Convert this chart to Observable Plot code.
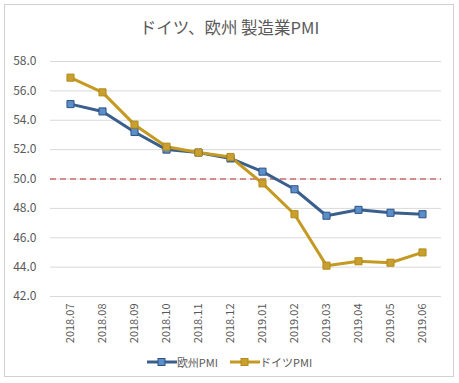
<!DOCTYPE html>
<html>
<head>
<meta charset="utf-8">
<script src="https://cdn.jsdelivr.net/npm/d3@7"></script>
<script src="https://cdn.jsdelivr.net/npm/@observablehq/plot@0.6"></script>
<style>
  body { margin: 0; background: #fff; font-family: "Noto Sans CJK JP", "Noto Sans", sans-serif; }
  #wrap { position: relative; width: 459px; height: 383px; overflow: hidden; }
  #frame { position: absolute; left: 4px; top: 4px; width: 450px; height: 373px; border: 1px solid #d0d0d0; box-sizing: border-box; background: #fff; }
  #title { position: absolute; left: 0; width: 459px; top: 15px; text-align: center; font-size: 16.5px; color: #595959; }
  #chart { position: absolute; left: 0; top: 50px; }
  #legend { position: absolute; left: 0; width: 459px; top: 354px; display: flex; justify-content: center; gap: 12px; font-size: 11px; color: #595959; }
  .item { display: flex; align-items: center; }
</style>
</head>
<body>
<div id="wrap">
  <div id="frame"></div>
  <div id="title">ドイツ、欧州 製造業PMI</div>
  <div id="chart"></div>
  <div id="legend"></div>
</div>
<script>
const months = ["2018.07","2018.08","2018.09","2018.10","2018.11","2018.12","2019.01","2019.02","2019.03","2019.04","2019.05","2019.06"];
const euPMI = [55.1, 54.6, 53.2, 52.0, 51.8, 51.4, 50.5, 49.3, 47.5, 47.9, 47.7, 47.6];
const dePMI = [56.9, 55.9, 53.7, 52.2, 51.8, 51.5, 49.7, 47.6, 44.1, 44.4, 44.3, 45.0];
const yTicks = [42, 44, 46, 48, 50, 52, 54, 56, 58];
const threshold = [50];
const seriesNames = ["欧州PMI", "ドイツPMI"];

const lineColors = ["#3A5F8D", "#C49A22"];
const dotFills = ["#5B8FCB", "#C9A030"];
const dotStrokes = ["#2F5280", "#B48A18"];

const eu = months.map((m, i) => ({month: m, value: euPMI[i]}));
const de = months.map((m, i) => ({month: m, value: dePMI[i]}));

const chart = Plot.plot({
  width: 459,
  height: 300,
  marginTop: 11,
  marginBottom: 54,
  marginLeft: 50,
  marginRight: 18,
  style: {fontFamily: '"Noto Sans CJK JP", "Noto Sans", sans-serif', fontSize: "11px", color: "#595959", background: "transparent"},
  x: {type: "point", domain: months, padding: 0.5, label: null},
  y: {domain: [42, 58], label: null},
  marks: [
    Plot.ruleY(yTicks, {stroke: "#d9d9d9", strokeWidth: 1}),
    Plot.axisY({ticks: yTicks, tickFormat: d => d.toFixed(1), tickSize: 0, tickPadding: 14, fill: "#595959", fontSize: 12}),
    Plot.axisX({tickRotate: -90, tickSize: 0, tickPadding: 7, fill: "#595959"}),
    Plot.ruleY(threshold, {stroke: "#C0504D", strokeWidth: 1.5, strokeDasharray: "6,4", strokeOpacity: 0.8}),
    Plot.line(eu, {x: "month", y: "value", stroke: lineColors[0], strokeWidth: 3}),
    Plot.line(de, {x: "month", y: "value", stroke: lineColors[1], strokeWidth: 3}),
    Plot.dot(eu, {x: "month", y: "value", symbol: "square", r: 4, fill: dotFills[0], stroke: dotStrokes[0], strokeWidth: 1}),
    Plot.dot(de, {x: "month", y: "value", symbol: "square", r: 4, fill: dotFills[1], stroke: dotStrokes[1], strokeWidth: 1})
  ]
});
document.getElementById("chart").appendChild(chart);

const legend = document.getElementById("legend");
seriesNames.forEach((name, i) => {
  const item = document.createElement("div");
  item.className = "item";
  item.innerHTML = `<svg width="30" height="12"><line x1="0" y1="6" x2="30" y2="6" stroke="${lineColors[i]}" stroke-width="3"/><rect x="11" y="2.5" width="7" height="7" fill="${dotFills[i]}" stroke="${dotStrokes[i]}" stroke-width="1"/></svg><span>${name}</span>`;
  legend.appendChild(item);
});
</script>
</body>
</html>
